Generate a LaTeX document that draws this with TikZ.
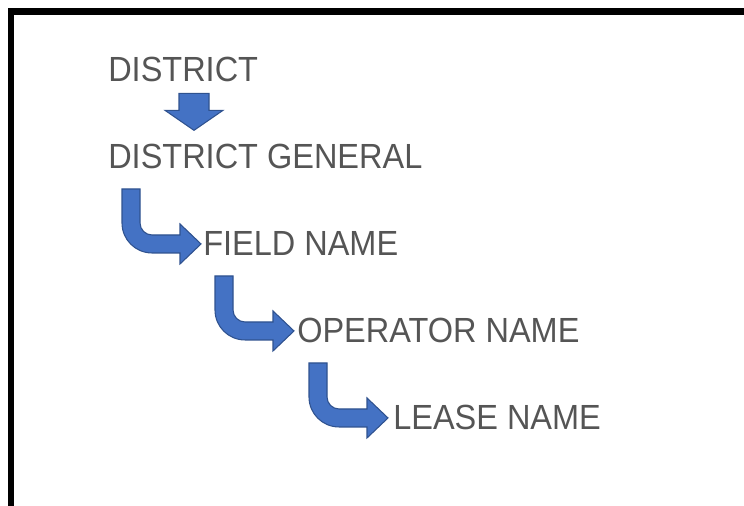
\documentclass[tikz,border=0pt]{standalone}
\usepackage{fontspec}
\usepackage{xcolor}
\usepackage{tikz}
\usetikzlibrary{calc}

\newfontfamily\levelfont{Liberation Sans}[FakeStretch=0.93]
\definecolor{textgray}{HTML}{555555}
\definecolor{arrowblue}{HTML}{4472C4}
\definecolor{arrowedge}{HTML}{2F528F}

\tikzset{
  level/.style={anchor=base west, inner sep=0pt, text=textgray,
    font=\levelfont\fontsize{26.2pt}{30pt}\selectfont},
  blockarrow/.style={fill=arrowblue, draw=arrowedge, line width=0.8pt, line join=miter},
  pics/downarrow/.style={code={
    \draw[blockarrow] (-15,-37) -- (-15,-20) -- (-29,-20) -- (0,0) -- (29,-20) -- (15,-20) -- (15,-37) -- cycle;
  }},
  pics/bendarrow/.style={code={
    \draw[blockarrow] (-79,-55) -- (-79,-21) .. controls (-79,-4.4) and (-65.6,9) .. (-49,9)
      -- (-21,9) -- (-21,20) -- (0,0) -- (-21,-20) -- (-21,-9) -- (-49,-9)
      .. controls (-55.6,-9) and (-61,-14.4) .. (-61,-21) -- (-61,-55) -- cycle;
  }},
}

\begin{document}
\begin{tikzpicture}[x=0.75pt, y=-0.75pt]
    \useasboundingbox (0,0) rectangle (744,506);
    % frame, open to the right and below
    \draw[line width=4.9pt, line join=miter] (11,520) -- (11,11.5) -- (760,11.5);

    \node[level] (dist) at (108,82) {DISTRICT};
    \node[level] (gen) at (108,169) {DISTRICT GENERAL};
    \node[level] (field) at (203,256) {FIELD NAME};
    \node[level] (oper) at (297,343) {OPERATOR NAME};
    \node[level] (lease) at (393,430) {LEASE NAME};

    \pic at ($(gen.north west)+(86,-14)$) {downarrow};
    \pic at ($(field.west)+(-2,0)$) {bendarrow};
    \pic at ($(oper.west)+(-3,0)$) {bendarrow};
    \pic at ($(lease.west)+(-5,0)$) {bendarrow};
  \end{tikzpicture}
\end{document}
